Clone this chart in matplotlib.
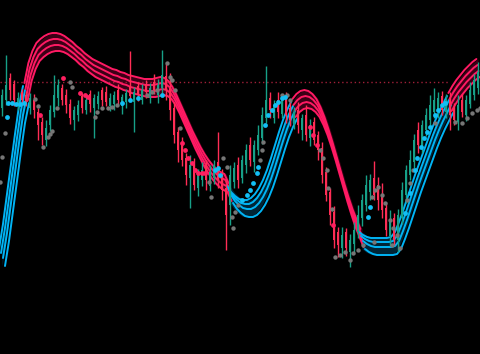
import numpy as np
import matplotlib
matplotlib.use("Agg")
import matplotlib.pyplot as plt

# levels are screen rows (0 = top), y axis is flipped below
opens = [108, 100, 78, 84, 106, 92, 95, 108, 100, 112, 122, 140, 125, 112, 98,
         88, 95, 104, 120, 115, 96, 110, 94, 108, 104, 90, 92, 106, 104, 90,
         106, 102, 86, 102, 86, 100, 84, 98, 82, 95, 88, 76, 88, 108, 132,
         145, 158, 178, 162, 188, 180, 165, 186, 178, 162, 175, 188, 205, 182, 165,
         178, 165, 145, 162, 150, 138, 118, 98, 118, 100, 114, 98, 108, 124, 110,
         130, 115, 138, 122, 135, 148, 172, 192, 212, 232, 248, 232, 252, 244, 232,
         218, 205, 192, 178, 185, 195, 208, 236, 218, 240, 218, 195, 175, 162, 130,
         148, 130, 120, 112, 110, 96, 112, 100, 108, 122, 100, 115, 104, 95, 88]
closes = [95, 85, 90, 100, 98, 100, 102, 98, 110, 125, 135, 128, 110, 95, 85,
          100, 105, 118, 110, 105, 108, 100, 104, 98, 96, 100, 102, 98, 95, 100,
          97, 93, 96, 92, 95, 90, 92, 88, 90, 85, 75, 90, 110, 135, 150,
          160, 175, 165, 185, 175, 170, 180, 172, 165, 180, 190, 215, 175, 168, 180,
          160, 150, 160, 145, 135, 115, 100, 110, 105, 112, 100, 115, 120, 112, 125,
          118, 135, 125, 140, 150, 175, 195, 215, 240, 245, 235, 248, 240, 230, 215,
          200, 185, 180, 195, 200, 210, 230, 220, 240, 215, 190, 170, 160, 140, 145,
          125, 115, 105, 100, 98, 110, 100, 115, 120, 105, 112, 100, 90, 80, 72]
wick_up = [6, 30, 5, 4, 6, 3, 4, 5, 6, 4, 5, 8, 5, 20, 6,
           4, 6, 5, 4, 5, 3, 6, 4, 4, 5, 3, 6, 5, 4, 6,
           3, 4, 35, 5, 4, 6, 4, 5, 8, 6, 25, 12, 15, 6, 5,
           8, 5, 10, 4, 6, 8, 5, 7, 5, 30, 6, 8, 10, 6, 8,
           5, 6, 8, 5, 10, 8, 34, 6, 5, 8, 4, 6, 6, 5, 8,
           4, 10, 6, 5, 4, 6, 5, 4, 6, 5, 8, 4, 6, 8, 10,
           6, 10, 6, 17, 8, 12, 6, 10, 5, 6, 8, 5, 10, 6, 8,
           5, 7, 10, 12, 6, 5, 6, 8, 5, 10, 6, 5, 8, 6, 10]
wick_dn = [8, 5, 10, 6, 4, 5, 4, 6, 8, 15, 10, 6, 6, 5, 8,
           5, 8, 6, 10, 6, 5, 4, 8, 30, 5, 6, 4, 5, 6, 4,
           8, 6, 5, 30, 6, 4, 6, 5, 4, 8, 5, 10, 10, 8, 12,
           6, 10, 30, 5, 8, 6, 10, 5, 6, 8, 10, 35, 20, 6, 8,
           5, 8, 6, 10, 5, 6, 5, 8, 5, 6, 4, 8, 6, 5, 8,
           10, 6, 8, 5, 10, 8, 6, 10, 8, 12, 10, 8, 15, 10, 6,
           8, 6, 8, 5, 10, 8, 6, 10, 5, 12, 6, 8, 5, 6, 8,
           5, 6, 5, 6, 8, 5, 6, 15, 5, 8, 5, 6, 4, 5, 6]

# centre of the trend ribbon
band_mid = [255, 230, 200, 170, 140, 112, 92, 72, 60, 52, 48, 45, 43, 42, 42,
            43, 45, 48, 51, 55, 58, 62, 65, 68, 70, 72, 74, 76, 78, 79,
            81, 82, 84, 85, 86, 87, 88, 88, 88, 87, 86, 87, 90, 96, 104,
            113, 122, 131, 140, 148, 156, 163, 169, 174, 178, 181, 183, 192, 198, 202,
            205, 206, 206, 204, 200, 194, 186, 176, 164, 151, 138, 126, 116, 108, 103,
            100, 99, 100, 103, 108, 116, 126, 138, 151, 165, 179, 193, 206, 218, 228,
            238, 241, 243, 244, 244, 244, 244, 244, 243, 238, 228, 217, 205, 193, 181,
            170, 159, 148, 137, 127, 118, 110, 102, 95, 89, 84, 79, 75, 71, 68]
legs = [(0, 6, "up"), (6, 57, "dn"), (57, 73, "up"), (73, 90, "dn"),
        (90, 112, "up"), (112, 119, "dn")]

gray_x = [-0.5, 0, 0.8, 8.2, 9, 10.2, 11.5, 12, 12.5, 13.8, 17, 17.5,
          23.2, 23.8, 25, 26.5, 27.5, 28.8, 36.2, 37.5, 38.8, 41.2, 42, 42.5, 43.2, 44.5,
          51.8, 52.2, 55.2, 56.2, 57.5, 58.2, 59, 57.8, 64.5, 65, 65.2, 70, 71.2, 72,
          79.5, 80.2, 81.2, 81.5, 82.5, 83.2, 84.5, 85.8, 87, 87.8, 89,
          92.5, 93.2, 94, 95, 95.8, 97, 97.8, 98.8, 90.2, 93, 97.5, 99.5,
          101.2, 102, 102.8, 108.2, 113.2, 115, 116.2, 117.5, 118.8, 119.5]
gray_y = [182, 157, 133, 99, 106, 147, 137, 134, 131, 108, 82, 87,
          117, 112, 108, 108, 107, 105, 95, 92, 90, 63, 77, 80, 90, 128,
          182, 197, 158, 167, 217, 212, 205, 228, 160, 150, 142, 95, 95, 100,
          150, 158, 170, 188, 209, 257, 255, 252, 260, 253, 250,
          197, 190, 187, 195, 203, 220, 228, 235, 245, 242, 245, 248,
          200, 183, 170, 123, 122, 123, 118, 113, 110, 108]
cyan_x = [1.2, 1.5, 2.5, 3.5, 4.5, 5.5, 30, 32, 34, 40, 53.2, 54, 54.5,
          60, 61.2, 62, 62.8, 63.8, 64, 65.8, 66.5, 67.5, 68.2, 69, 70, 70.8,
          91.5, 92, 100.8, 102, 103.2, 103.8, 104.8, 105.5, 106.2, 107, 108.2,
          109, 110, 110.8]
cyan_y = [117, 103, 103, 104, 104, 103, 103, 100, 98, 95, 170, 168, 175,
          200, 195, 190, 183, 173, 167, 125, 115, 110, 105, 102, 98, 97,
          217, 207, 213, 193, 170, 158, 147, 138, 132, 127, 115,
          110, 105, 103]
pink_x = [9.5, 15.2, 19.5, 20.8, 21.5, 45, 45.8, 46.5, 47.5, 48.2, 49, 50, 50.8,
          77, 77.8, 78.8, 82.8]
pink_y = [115, 78, 93, 95, 97, 143, 150, 158, 163, 170, 173, 173, 173,
          127, 135, 145, 225]

level_y = 82

UP, DOWN = "#17a088", "#ff2d55"
PINK, CYAN = "#ff1a63", "#00b4f5"

fig = plt.figure(figsize=(4.8, 3.54), dpi=100, facecolor="black")
ax = fig.add_axes([0, 0, 1, 1])
ax.set_facecolor("black")
ax.axis("off")
ax.set_xlim(-0.5, 119.5)
ax.set_ylim(354, 0)

idx = np.arange(len(closes))
o = np.array(opens, float)
c = np.array(closes, float)
band = np.array(band_mid, float)

# ribbon: 4 lines, slightly shifted so they spread on steep legs
for a, b, d in legs:
    xs = idx[a:b + 1]
    ys = band[a:b + 1]
    if d == "dn":
        col, offs, fill = PINK, [-9, -3, 3, 9], "#3c0016"
        shifts = [-0.4, -0.13, 0.13, 0.4]
    else:
        col, offs, fill = CYAN, [-6, -2, 3, 11], "#002536"
        shifts = [-0.75, -0.25, 0.25, 0.75]
    ax.fill_between(xs, ys + offs[0], ys + offs[-1], color=fill, lw=0, zorder=1)
    for s, off in zip(shifts, offs):
        ax.plot(xs + s, ys + off, color=col, lw=1.4, zorder=2,
                solid_capstyle="round")

ax.plot([-0.5, 112], [level_y, level_y], color="#a01f38", lw=1,
        ls=(0, (1, 2)), zorder=1)

# candles
rising = c < o
cols = np.where(rising, UP, DOWN)
top = np.minimum(o, c) - np.array(wick_up)
bot = np.maximum(o, c) + np.array(wick_dn)
ax.vlines(idx, top, bot, colors=cols, lw=1, zorder=3)
body = np.maximum(np.abs(c - o), 1.5)
ax.bar(idx, body, bottom=np.minimum(o, c), width=0.7, color=cols, zorder=3)

ax.scatter(gray_x, gray_y, s=10, color="#767676", lw=0, zorder=4)
ax.scatter(cyan_x, cyan_y, s=12, color="#12bff5", lw=0, zorder=4)
ax.scatter(pink_x, pink_y, s=12, color="#ff1f60", lw=0, zorder=4)

fig.savefig("out.png", dpi=100, facecolor="black")
